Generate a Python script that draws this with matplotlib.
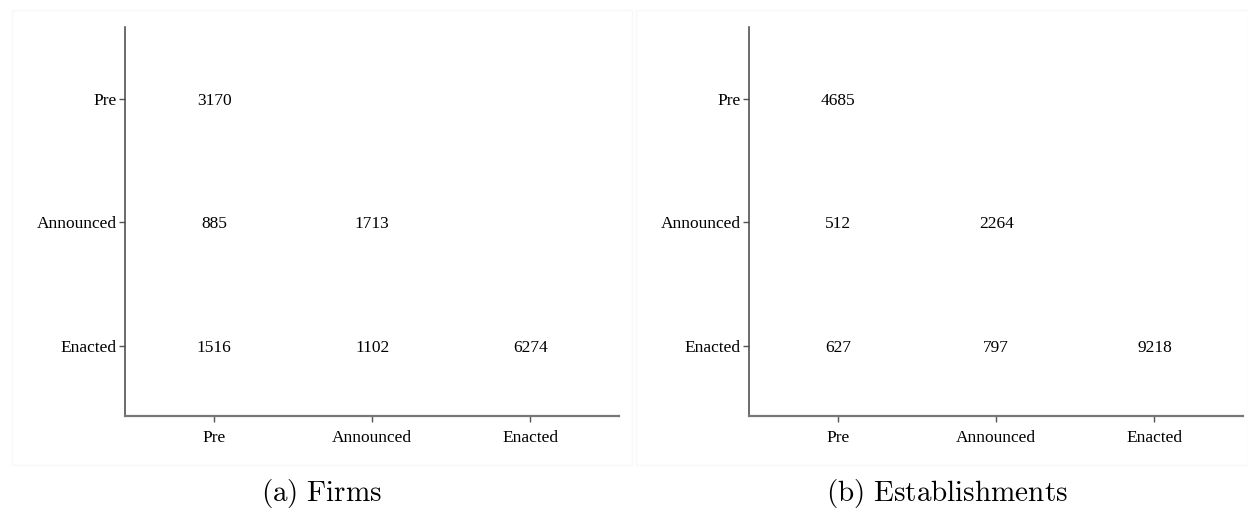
import matplotlib.pyplot as plt
from matplotlib.patches import Rectangle

plt.rcParams['font.family'] = 'Liberation Serif'
plt.rcParams['mathtext.fontset'] = 'cm'

states = ['Enacted', 'Announced', 'Pre']   # y axis, bottom to top
cols = ['Pre', 'Announced', 'Enacted']     # x axis

# counts[row][col], rows = from state (Pre, Announced, Enacted), None = empty cell
firms = [[3170, None, None],
         [885, 1713, None],
         [1516, 1102, 6274]]
estab = [[4685, None, None],
         [512, 2264, None],
         [627, 797, 9218]]
row_names = ['Pre', 'Announced', 'Enacted']
captions = [r'$\mathrm{(a)\ Firms}$', r'$\mathrm{(b)\ Establishments}$']

fig = plt.figure(figsize=(12.48, 5.08), dpi=100)

# faint panel frames
for x0, w in [(12, 620), (636, 612)]:
    fig.patches.append(Rectangle((x0 / 1248, 1 - 465 / 508), w / 1248, 455 / 508,
                                 transform=fig.transFigure, facecolor='white',
                                 edgecolor='#f8f8f8', lw=1, zorder=-1))

lefts = [125, 749]
for k, data in enumerate([firms, estab]):
    ax = fig.add_axes([lefts[k] / 1248, 1 - 416 / 508, 494 / 1248, 389 / 508])
    ax.set_facecolor('none')
    for i, r in enumerate(row_names):
        y = states.index(r) + 1
        for j, v in enumerate(data[i]):
            if v is not None:
                ax.text(j + 1, y, str(v), ha='center', va='center_baseline', fontsize=12.5)
    ax.set_xlim(0.437, 3.56)
    ax.set_ylim(0.433, 3.58)
    ax.set_xticks([1, 2, 3])
    ax.set_xticklabels(cols)
    ax.set_yticks([1, 2, 3])
    ax.set_yticklabels(states)
    ax.tick_params(labelsize=12.5, length=4, width=1, color='#555555')
    ax.tick_params(axis='x', pad=6)
    ax.tick_params(axis='y', pad=2)
    for s in ['top', 'right']:
        ax.spines[s].set_visible(False)
    ax.spines['left'].set_color('#444444')
    ax.spines['bottom'].set_color('#777777')
    ax.spines['left'].set_linewidth(1.1)
    ax.spines['bottom'].set_linewidth(1.6)
    cx = [322, 947][k]
    fig.text(cx / 1248, 1 - 493 / 508, captions[k], ha='center', va='center', fontsize=21)

fig.savefig('out.png', dpi=100)
